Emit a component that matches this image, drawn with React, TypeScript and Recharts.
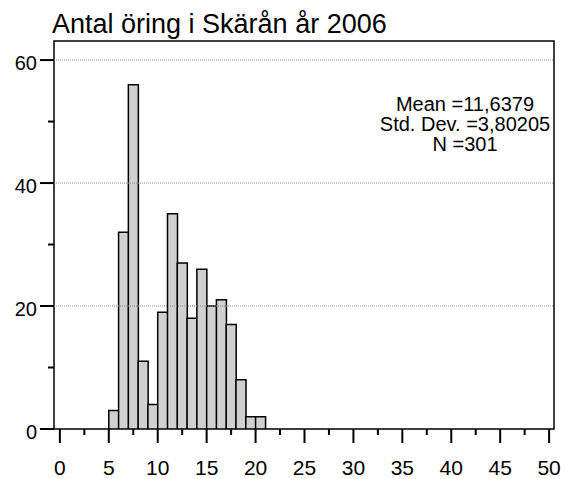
import { BarChart, Bar, XAxis, YAxis, ReferenceLine, ReferenceArea } from 'recharts';

const binStarts = [5, 6, 7, 8, 9, 10, 11, 12, 13, 14, 15, 16, 17, 18, 19, 20];
const counts = [3, 32, 56, 11, 4, 19, 35, 27, 18, 26, 20, 21, 17, 8, 2, 2];
const binWidth = 1;

const xTicks = [0, 2.5, 5, 7.5, 10, 12.5, 15, 17.5, 20, 22.5, 25, 27.5, 30, 32.5, 35, 37.5, 40, 42.5, 45, 47.5, 50];
const xLabelled = [0, 5, 10, 15, 20, 25, 30, 35, 40, 45, 50];
const yTicks = [0, 10, 20, 30, 40, 50, 60];
const yLabelled = [0, 20, 40, 60];
const gridValues = [20, 40, 60];

const title = 'Antal öring i Skärån år 2006';
const statLines = ['Mean =11,6379', 'Std. Dev. =3,80205', 'N =301'];

const xDomain: [number, number] = [-0.6, 50.5];
const yDomain: [number, number] = [0, 63.1];

const FONT = '"Liberation Sans", Arial, Helvetica, sans-serif';

const data = binStarts.map((start, i) => ({ mid: start + binWidth / 2, count: counts[i] }));

const XTick = (props: any) => {
  const { x, y, payload } = props;
  const major = xLabelled.includes(payload.value);
  return (
    <g>
      <line x1={x} x2={x} y1={y} y2={y + (major ? 14 : 6)} stroke="#000" strokeWidth={2} />
      {major && (
        <text x={x} y={y + 46} textAnchor="middle" fontSize={21} fontFamily={FONT} fill="#000">
          {payload.value}
        </text>
      )}
    </g>
  );
};

const YTick = (props: any) => {
  const { x, y, payload } = props;
  const major = yLabelled.includes(payload.value);
  return (
    <g>
      <line x1={x - (major ? 14 : 6)} x2={x} y1={y} y2={y} stroke="#000" strokeWidth={2} />
      {major && (
        <text x={x - 17} y={y + 10} textAnchor="end" fontSize={20} fontFamily={FONT} fill="#000">
          {payload.value}
        </text>
      )}
    </g>
  );
};

export default function App() {
  return (
    <div style={{ position: 'absolute', left: 0, top: 0, width: 571, height: 479, background: '#fff' }}>
      <BarChart
        width={571}
        height={479}
        data={data}
        margin={{ top: 41, right: 17, bottom: 0, left: 0 }}
        barCategoryGap={0}
        barGap={0}
      >
        <XAxis
          dataKey="mid"
          type="number"
          domain={xDomain}
          ticks={xTicks}
          interval={0}
          allowDataOverflow
          height={50}
          tickSize={0}
          tickMargin={0}
          tickLine={false}
          axisLine={false}
          tick={<XTick />}
        />
        <YAxis
          type="number"
          domain={yDomain}
          ticks={yTicks}
          interval={0}
          allowDataOverflow
          width={54}
          tickSize={0}
          tickMargin={0}
          tickLine={false}
          axisLine={false}
          tick={<YTick />}
        />
        {gridValues.map((v) => (
          <ReferenceLine key={v} y={v} stroke="#8c8c8c" strokeDasharray="1 1" strokeWidth={1} />
        ))}
        <Bar dataKey="count" fill="#d0d0d0" stroke="#000" strokeWidth={1.5} isAnimationActive={false} />
        <ReferenceArea
          x1={xDomain[0]}
          x2={xDomain[1]}
          y1={yDomain[0]}
          y2={yDomain[1]}
          fill="none"
          fillOpacity={0}
          stroke="#000"
          strokeWidth={1.5}
        />
      </BarChart>
      <svg
        width={571}
        height={479}
        style={{ position: 'absolute', left: 0, top: 0, pointerEvents: 'none' }}
      >
        <text x={52} y={33} fontSize={27} fontFamily={FONT} fill="#000">
          {title}
        </text>
        {statLines.map((line, i) => (
          <text key={line} x={465} y={111 + i * 20} textAnchor="middle" fontSize={20} fontFamily={FONT} fill="#000">
            {line}
          </text>
        ))}
      </svg>
    </div>
  );
}
